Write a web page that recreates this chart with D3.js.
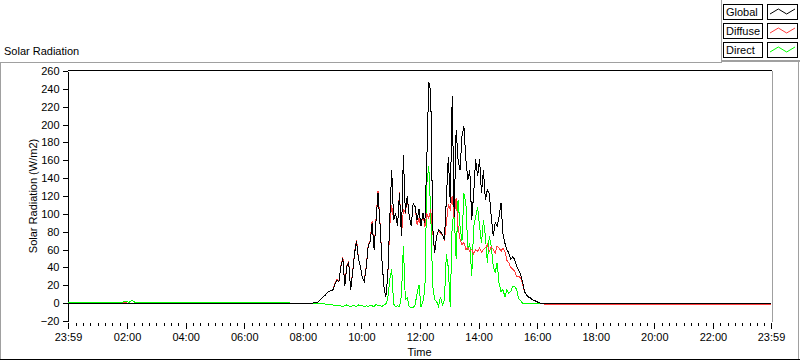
<!DOCTYPE html>
<html>
<head>
<meta charset="utf-8">
<script src="https://cdn.jsdelivr.net/npm/d3@7"></script>
<style>
  body { margin: 0; background: #fff; }
  svg { display: block; font-family: Tahoma, "Liberation Sans", Arial, sans-serif; font-size: 11px; }
  .axis text { font-size: 11px; fill: #000; }
  .axis line, .axis path { stroke: #000; shape-rendering: crispEdges; }
</style>
</head>
<body>
<div id="chart"></div>
<script>
// series names + colours
var seriesNames = ['Global', 'Diffuse', 'Direct'];
var seriesColors = ['#000000', '#ff3c3c', '#00ff00'];

// y ticks
var yTicks = [-20, 0, 20, 40, 60, 80, 100, 120, 140, 160, 180, 200, 220, 240, 260];

// x ticks (minutes after midnight, first one is 23:59 of the day before)
var xTickMinutes = [-1, 120, 240, 360, 480, 600, 720, 840, 960, 1080, 1200, 1320, 1439];
var xTickLabels = ['23:59', '02:00', '04:00', '06:00', '08:00', '10:00', '12:00', '14:00', '16:00', '18:00', '20:00', '22:00', '23:59'];

// night before sunrise
var amTimes   = [-1, 60, 110, 118, 124, 130, 136, 150, 240, 360, 470, 500];
var amGlobal  = [0, 0, 0, 0, 0, 0, 0, 0, 0, 0, 0, 0];
var amDiffuse = [0, 0, 0, 1, -1, 0, -1, 0, 0, 0, 0, 0];
var amDirect  = [1, 1, 1, 2, 1, 3, 1, 1, 1, 1, 0, 0];

// daytime, one reading every 4 minutes from 08:30
var dayStart = 510, dayStep = 4;
var dayGlobal = [
  1, 3, 5, 7, 9, 12, 13, 14, 15, 22,
  26, 24, 41, 50, 19, 41, 45, 15, 34, 56,
  69, 49, 41, 28, 24, 41, 64, 69, 90, 60,
  93, 123, 90, 49, 19, 7, 30, 93, 149, 93,
  101, 86, 123, 75, 166, 101, 120, 97, 86, 112,
  108, 93, 105, 86, 101, 90, 161, 248, 237, 86,
  56, 75, 82, 80, 77, 71, 116, 164, 112, 232,
  97, 194, 161, 149, 187, 198, 161, 138, 149, 93,
  123, 161, 142, 161, 123, 149, 116, 127, 123, 97,
  75, 90, 86, 97, 112, 78, 67, 60, 56, 49,
  52, 49, 41, 37, 32, 24, 13, 9, 7, 6,
  4, 3, 2, 1, 0, 0, 0, 0
];
var dayDiffuse = [
  1, 3, 5, 7, 9, 12, 13, 14, 15, 23,
  27, 24, 42, 52, 19, 42, 46, 15, 35, 57,
  71, 50, 41, 28, 25, 42, 65, 70, 92, 60,
  95, 125, 91, 49, 19, 7, 30, 86, 110, 93,
  101, 86, 125, 75, 105, 101, 118, 97, 86, 112,
  108, 88, 95, 86, 100, 85, 100, 95, 105, 80,
  56, 75, 82, 78, 77, 70, 90, 110, 105, 120,
  95, 118, 85, 72, 65, 68, 60, 62, 58, 60,
  55, 60, 58, 62, 57, 60, 62, 66, 58, 63,
  60, 56, 64, 62, 58, 62, 58, 48, 45, 40,
  38, 36, 30, 30, 28, 22, 13, 9, 7, 6,
  4, 3, 2, 1, 0, 0, -1, -1
];
var dayDirect = [
  0, 0, 0, 0, -1, -1, -1, -2, -2, -3,
  -2, -3, -3, -4, -3, -2, -3, -4, -3, -3,
  -4, -2, -3, -3, -4, -3, -4, -2, -3, -4,
  -1, -3, -2, -4, -2, -1, 5, 26, 38, -1,
  -4, -3, -4, 8, 64, 4, 6, -4, -5, -5,
  -2, 11, 20, -4, 2, 14, 134, 153, 101, 20,
  4, 2, -4, 7, -2, 3, 55, 40, -4, 90,
  100, 50, 116, 86, 70, 123, 112, 60, 67, 30,
  85, 97, 108, 86, 67, 93, 75, 45, 75, 64,
  41, 34, 45, 22, 13, 15, 7, 15, 11, 13,
  19, 19, 15, 5, 3, 0, 0, 0, 0, 0,
  0, 0, 0, 0, 0, 0, 0, 0
];

// night after sunset
var pmTimes   = [982, 1000, 1100, 1150, 1200, 1300, 1350, 1439];
var pmGlobal  = [0, 0, 0, 0, 0, 0, 0, 0];
var pmDiffuse = [-1, -1, -1, -1, -1, -1, -1, -1];
var pmDirect  = [0, 0, 0, 0, 0, 0, 0, 0];

var dayTimes = dayGlobal.map(function (d, i) { return dayStart + i * dayStep; });
var times = amTimes.concat(dayTimes, pmTimes);
var seriesValues = [
  amGlobal.concat(dayGlobal, pmGlobal),
  amDiffuse.concat(dayDiffuse, pmDiffuse),
  amDirect.concat(dayDirect, pmDirect)
];

var W = 800, H = 361;
var plot = { left: 68, right: 771, top: 71, bottom: 321 };

var svg = d3.select('#chart').append('svg')
  .attr('width', W)
  .attr('height', H);

var x = d3.scaleLinear().domain([-1, 1439]).range([plot.left, plot.right]);
var y = d3.scaleLinear().domain([-20, 260]).range([plot.bottom, plot.top]);

// outer panel frame
var frame = svg.append('g').attr('shape-rendering', 'crispEdges');
frame.append('line').attr('x1', 0).attr('x2', 722).attr('y1', 62.5).attr('y2', 62.5).attr('stroke', '#a0a0a0');
frame.append('line').attr('x1', 721).attr('x2', 800).attr('y1', 61).attr('y2', 61).attr('stroke', '#a0a0a0').attr('stroke-width', 2);
frame.append('line').attr('x1', 721.5).attr('x2', 721.5).attr('y1', 0).attr('y2', 61).attr('stroke', '#a0a0a0');
frame.append('line').attr('x1', 0.5).attr('x2', 0.5).attr('y1', 62).attr('y2', 360).attr('stroke', '#a0a0a0');
frame.append('line').attr('x1', 798.5).attr('x2', 798.5).attr('y1', 60).attr('y2', 360).attr('stroke', '#a0a0a0');
frame.append('line').attr('x1', 0).attr('x2', 800).attr('y1', 359.5).attr('y2', 359.5).attr('stroke', '#000');

// graph title
svg.append('text')
  .attr('x', 4)
  .attr('y', 55)
  .text('Solar Radiation');

// plot border: top black, right gray
svg.append('line')
  .attr('x1', plot.left).attr('x2', plot.right + 1)
  .attr('y1', plot.top - 0.5).attr('y2', plot.top - 0.5)
  .attr('stroke', '#000').attr('shape-rendering', 'crispEdges');
svg.append('line')
  .attr('x1', plot.right + 1.5).attr('x2', plot.right + 1.5)
  .attr('y1', plot.top).attr('y2', plot.bottom + 1)
  .attr('stroke', '#a0a0a0').attr('shape-rendering', 'crispEdges');

// y axis
var yAxis = d3.axisLeft(y)
  .tickValues(yTicks)
  .tickSize(5)
  .tickSizeOuter(0)
  .tickPadding(3);
svg.append('g')
  .attr('class', 'axis')
  .attr('transform', 'translate(' + (plot.left - 0.5) + ',0)')
  .call(yAxis);

// x axis minor ticks every 15 minutes
var minorTicks = d3.range(15, 1439, 15).filter(function (m) { return m % 120 !== 0; });
var xMinor = d3.axisBottom(x)
  .tickValues(minorTicks)
  .tickSize(3)
  .tickSizeOuter(0)
  .tickFormat('');
var gMinor = svg.append('g')
  .attr('class', 'axis')
  .attr('transform', 'translate(0,' + (plot.bottom + 1.5) + ')')
  .call(xMinor);
gMinor.select('.domain').remove();

// x axis major ticks with labels
var xAxis = d3.axisBottom(x)
  .tickValues(xTickMinutes)
  .tickSize(6)
  .tickSizeOuter(0)
  .tickPadding(5)
  .tickFormat(function (d, i) { return xTickLabels[i]; });
var gx = svg.append('g')
  .attr('class', 'axis')
  .attr('transform', 'translate(0,' + (plot.bottom + 1.5) + ')')
  .call(xAxis);
gx.select('.domain').remove();

// axis titles
svg.append('text')
  .attr('x', (plot.left + plot.right) / 2)
  .attr('y', 356)
  .attr('text-anchor', 'middle')
  .text('Time');

svg.append('text')
  .attr('transform', 'translate(37,' + ((plot.top + plot.bottom) / 2) + ') rotate(-90)')
  .attr('text-anchor', 'middle')
  .text('Solar Radiation (W/m2)');

// lines, direct first so global sits on top
var line = d3.line()
  .x(function (d, i) { return x(times[i]); })
  .y(function (d) { return y(d); });

var drawOrder = [2, 1, 0];
var gLines = svg.append('g');
drawOrder.forEach(function (s) {
  gLines.append('path')
    .datum(seriesValues[s])
    .attr('d', line)
    .attr('fill', 'none')
    .attr('stroke', seriesColors[s])
    .attr('stroke-width', 1)
    .attr('shape-rendering', 'crispEdges');
});

// legend
var legend = svg.append('g').attr('shape-rendering', 'crispEdges');
var swatchX = d3.scaleLinear().domain([0, 3]).range([770, 795]);
seriesNames.forEach(function (name, i) {
  var top = 4 + i * 19;
  legend.append('rect')
    .attr('x', 723.5).attr('y', top + 0.5)
    .attr('width', 39).attr('height', 15)
    .attr('fill', '#fff').attr('stroke', '#000');
  legend.append('text')
    .attr('x', 726).attr('y', top + 12)
    .text(name);
  legend.append('rect')
    .attr('x', 767.5).attr('y', top + 0.5)
    .attr('width', 30).attr('height', 15)
    .attr('fill', '#fff').attr('stroke', '#000');
  var pts = [[0, 10], [1, 5], [2, 10], [3, 5]].map(function (p) {
    return [swatchX(p[0]), top + p[1]];
  });
  legend.append('path')
    .attr('d', d3.line()(pts))
    .attr('fill', 'none')
    .attr('stroke', seriesColors[i])
    .attr('shape-rendering', 'auto');
});
</script>
</body>
</html>
